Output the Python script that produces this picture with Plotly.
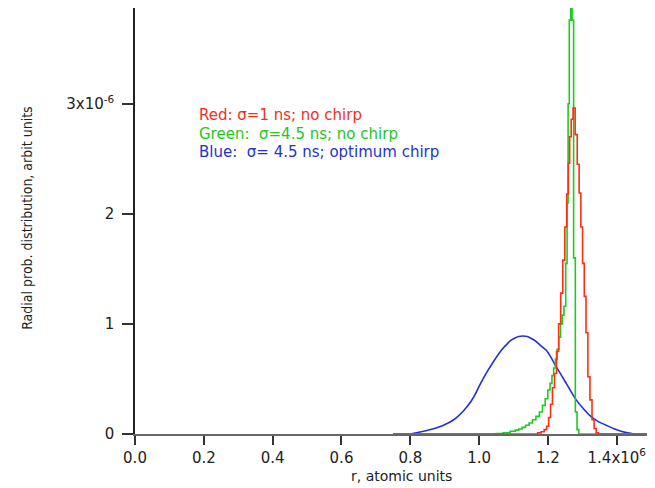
import plotly.graph_objects as go

# x in units of 1e6 (atomic units), y in units of 1e-6 (arbit units)
red_r = [0.75, 1.165, 1.175, 1.185, 1.193, 1.199, 1.205, 1.210, 1.216, 1.222, 1.228, 1.234,
         1.240, 1.246, 1.252, 1.257, 1.261, 1.265, 1.270, 1.276, 1.282, 1.288, 1.293, 1.298,
         1.303, 1.308, 1.313, 1.319, 1.325, 1.331, 1.337, 1.343, 1.350, 1.51]
red_p = [0.0, 0.0, 0.01, 0.02, 0.04, 0.07, 0.15, 0.27, 0.42, 0.55, 0.75, 1.00,
         1.28, 1.58, 1.88, 2.18, 2.46, 2.70, 2.86, 2.96, 2.72, 2.45, 2.19, 1.88,
         1.55, 1.25, 0.92, 0.52, 0.31, 0.13, 0.05, 0.01, 0.0, 0.0]

green_r = [0.75, 1.040, 1.060, 1.080, 1.100, 1.110, 1.120, 1.130, 1.140, 1.150, 1.160, 1.170,
           1.180, 1.188, 1.196, 1.203, 1.209, 1.214, 1.219, 1.224, 1.229, 1.234, 1.239, 1.244,
           1.249, 1.254, 1.257, 1.260, 1.264, 1.268, 1.272, 1.277, 1.282, 1.287, 1.292, 1.51]
green_p = [0.0, 0.0, 0.005, 0.012, 0.025, 0.035, 0.045, 0.06, 0.08, 0.10, 0.13, 0.16,
           0.20, 0.26, 0.32, 0.40, 0.46, 0.53, 0.60, 0.68, 0.77, 0.88, 1.00, 1.08,
           1.16, 1.55, 2.10, 3.00, 3.76, 3.87, 3.76, 1.60, 0.20, 0.04, 0.0, 0.0]

blue_r = [0.75, 0.80, 0.813, 0.835, 0.856, 0.875, 0.895, 0.910, 0.924, 0.940, 0.953, 0.965,
          0.977, 0.990, 1.001, 1.013, 1.026, 1.040, 1.055, 1.067, 1.079, 1.090, 1.103, 1.115,
          1.127, 1.140, 1.153, 1.166, 1.180, 1.195, 1.210, 1.224, 1.238, 1.253, 1.267, 1.282,
          1.300, 1.321, 1.345, 1.369, 1.390, 1.408, 1.425, 1.437, 1.450, 1.51]
blue_p = [0.0, 0.0, 0.008, 0.022, 0.038, 0.055, 0.078, 0.10, 0.125, 0.165, 0.205, 0.25,
          0.30, 0.37, 0.44, 0.51, 0.58, 0.65, 0.72, 0.77, 0.81, 0.845, 0.87, 0.885,
          0.89, 0.885, 0.865, 0.84, 0.80, 0.76, 0.69, 0.61, 0.54, 0.46, 0.385, 0.31,
          0.24, 0.17, 0.115, 0.08, 0.05, 0.03, 0.015, 0.008, 0.0, 0.0]

x_tickvals = [0.0, 0.2, 0.4, 0.6, 0.8, 1.0, 1.2, 1.4]
x_ticktext = ["0.0", "0.2", "0.4", "0.6", "0.8", "1.0", "1.2", "1.4x10<sup>6</sup>"]
y_tickvals = [0, 1, 2, 3]
y_ticktext = ["0", "1", "2", "3x10<sup>-6</sup>"]

legend_lines = [
    ("Red: \u03c3=1 ns; no chirp", "#f0301a", 2.894),
    ("Green:  \u03c3=4.5 ns; no chirp", "#22c81e", 2.725),
    ("Blue:  \u03c3= 4.5 ns; optimum chirp", "#2232d2", 2.56),
]

fig = go.Figure()
fig.add_trace(go.Scatter(x=blue_r, y=blue_p, mode="lines",
                         line=dict(color="#1f30d8", width=1.6, shape="spline", smoothing=0.5)))
fig.add_trace(go.Scatter(x=green_r, y=green_p, mode="lines",
                         line=dict(color="#1ecc1e", width=1.6, shape="hvh")))
fig.add_trace(go.Scatter(x=red_r, y=red_p, mode="lines",
                         line=dict(color="#ff2e12", width=1.6, shape="hvh")))

tickfont = dict(family="DejaVu Sans", size=15, color="#222")
fig.update_xaxes(range=[0, 1.511], tickvals=x_tickvals, ticktext=x_ticktext,
                 showgrid=False, zeroline=False, showline=True, linecolor="#666",
                 linewidth=1.5, ticks="outside", ticklen=9, tickwidth=1.5,
                 tickcolor="#333", tickfont=tickfont)
fig.update_yaxes(range=[0, 3.87], tickvals=y_tickvals, ticktext=y_ticktext,
                 showgrid=False, zeroline=False, showline=True, linecolor="#222",
                 linewidth=1.5, ticks="outside", ticklen=11, tickwidth=1.5,
                 tickcolor="#333", tickfont=tickfont, ticklabelstandoff=5)

for text, color, yv in legend_lines:
    fig.add_annotation(x=0.18, y=yv, xref="x", yref="y", text=text, showarrow=False,
                       xanchor="left", yanchor="middle",
                       font=dict(family="DejaVu Sans", size=15, color=color))

fig.add_annotation(x=0.513, y=-0.099, xref="paper", yref="paper", text="r, atomic units",
                   showarrow=False, xanchor="center", yanchor="middle",
                   font=dict(family="DejaVu Sans", size=14, color="#222"))
fig.add_annotation(x=-0.208, y=0.507, xref="paper", yref="paper",
                   text="Radial prob. distribution, arbit units", textangle=-90,
                   showarrow=False, xanchor="center", yanchor="middle",
                   font=dict(family="Liberation Sans Narrow, DejaVu Sans Condensed, sans-serif",
                             size=14, color="#222"))

# page body has an 8px margin; size and offset the figure so the plot area lands
# where the reference has it and nothing overflows the window
fig.update_layout(width=647, height=480, autosize=False, showlegend=False,
                  margin=dict(l=127, r=0, t=0, b=54, autoexpand=False),
                  paper_bgcolor="white", plot_bgcolor="white")

fig.write_html("out.html")
